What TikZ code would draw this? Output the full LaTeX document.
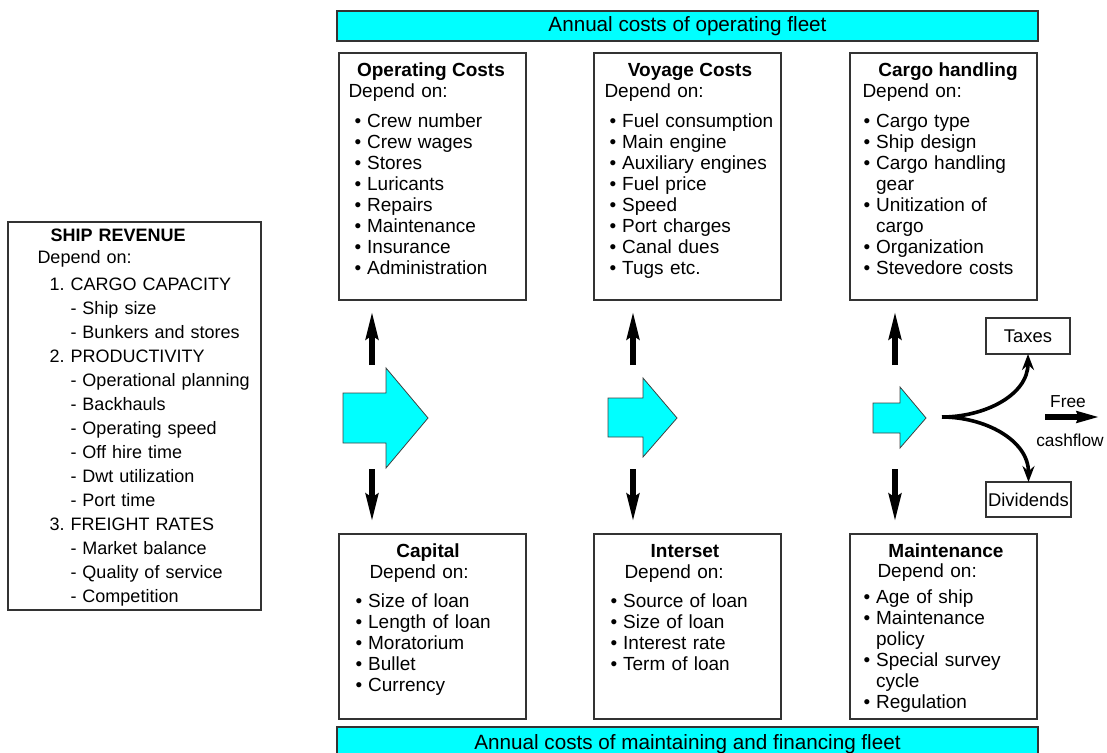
\documentclass[tikz,border=0pt]{standalone}
\usepackage{fontspec}
\setmainfont{Liberation Sans}
\usetikzlibrary{arrows.meta}
\definecolor{fleetcyan}{RGB}{0,255,255}
\tikzset{every picture/.style={line width=0.75pt}}
\tikzset{
  costbox/.style={draw=black!80, line width=0.9pt, inner sep=0pt, outer sep=0pt, anchor=north west, minimum width=140.25pt},
  cyanbar/.style={draw=black!80, fill=fleetcyan, line width=0.9pt, inner sep=0pt, outer sep=0pt, anchor=north west, minimum width=525.75pt, font=\fontsize{15.5}{18}\selectfont},
  boxtitle/.style={anchor=base, inner sep=0pt, font=\fontsize{14.25}{15.8}\selectfont\bfseries},
  boxtext/.style={anchor=base west, inner sep=0pt, align=left, text width=135pt, font=\fontsize{14.25}{15.8}\selectfont},
  revtext/.style={anchor=base west, inner sep=0pt, align=left, text width=180pt, font=\fontsize{13.5}{18}\selectfont},
  smallbox/.style={draw=black!80, line width=0.9pt, inner sep=0pt, outer sep=0pt, anchor=north west, font=\fontsize{13.8}{16}\selectfont},
  flowarrow/.style={draw=black!75, fill=fleetcyan, line width=0.6pt, line join=miter},
  vertarrow/.style={line width=5pt, -{Stealth[length=21pt,width=8.5pt,inset=2pt]}},
  splitarrow/.style={line width=2.7pt, -{Stealth[length=12pt,width=9pt,inset=4pt]}},
}
\newcommand{\itm}{\makebox[9.5pt][l]{\textbullet}}
\newcommand{\cnt}{\hspace*{9.5pt}}
\newcommand{\dsh}{\hspace*{15.75pt}- }
\frenchspacing

\begin{document}
\begin{tikzpicture}[x=0.75pt,y=0.75pt,yscale=-1,xscale=1]
\useasboundingbox (0,0) rectangle (1107,753);

%Shape: Rectangle (cyan bars)
\node[cyanbar, minimum height=22.5pt] (opbar) at (337,11) {Annual costs of operating fleet};
\node[cyanbar, minimum height=25.5pt] (finbar) at (337,727) {Annual costs of maintaining and financing fleet};

%Shape: Rectangle (cost boxes)
\node[costbox, minimum height=185.25pt] (opc) at (339,53) {};
\node[costbox, minimum height=185.25pt] (voy) at (594,53) {};
\node[costbox, minimum height=185.25pt] (cargo) at (850,53) {};
\node[costbox, minimum height=138.75pt] (cap) at (339,534) {};
\node[costbox, minimum height=138.75pt] (intr) at (594,534) {};
\node[costbox, minimum height=138.75pt] (mnt) at (850,534) {};
\node[costbox, minimum width=189.75pt, minimum height=291pt] (rev) at (8,222) {};

% Text Node
\node[revtext, font=\fontsize{13.5}{18}\selectfont\bfseries] (revt) at (50,241) {SHIP REVENUE};
\node[revtext] (revd) at (37,263) {Depend on:};
\node[revtext] (revl) at (49,290) {1. CARGO CAPACITY\\ \dsh Ship size\\ \dsh Bunkers and stores\\ 2. PRODUCTIVITY\\ \dsh Operational planning\\ \dsh Backhauls\\ \dsh Operating speed\\ \dsh Off hire time\\ \dsh Dwt utilization\\ \dsh Port time\\ 3. FREIGHT RATES\\ \dsh Market balance\\ \dsh Quality of service\\ \dsh Competition};

% Text Node
\node[boxtitle] (opct) at (431,76) {Operating Costs};
\node[boxtext] (opcd) at (348,97) {Depend on:};
\node[boxtext] (opcl) at (354,127) {\itm Crew number\\ \itm Crew wages\\ \itm Stores\\ \itm Luricants\\ \itm Repairs\\ \itm Maintenance\\ \itm Insurance\\ \itm Administration};

% Text Node
\node[boxtitle] (voyt) at (690,76) {Voyage Costs};
\node[boxtext] (voyd) at (604,97) {Depend on:};
\node[boxtext] (voyl) at (609,127) {\itm Fuel consumption\\ \itm Main engine\\ \itm Auxiliary engines\\ \itm Fuel price\\ \itm Speed\\ \itm Port charges\\ \itm Canal dues\\ \itm Tugs etc.};

% Text Node
\node[boxtitle] (cargot) at (948,76) {Cargo handling};
\node[boxtext] (cargod) at (862,97) {Depend on:};
\node[boxtext] (cargol) at (863,127) {\itm Cargo type\\ \itm Ship design\\ \itm Cargo handling\\ \cnt gear\\ \itm Unitization of\\ \cnt cargo\\ \itm Organization\\ \itm Stevedore costs};

% Text Node
\node[boxtitle] (capt) at (428,557) {Capital};
\node[boxtext] (capd) at (369,578) {Depend on:};
\node[boxtext] (capl) at (355,607) {\itm Size of loan\\ \itm Length of loan\\ \itm Moratorium\\ \itm Bullet\\ \itm Currency};

% Text Node
\node[boxtitle] (intrt) at (685,557) {Interset};
\node[boxtext] (intrd) at (624,578) {Depend on:};
\node[boxtext] (intrl) at (610,607) {\itm Source of loan\\ \itm Size of loan\\ \itm Interest rate\\ \itm Term of loan};

% Text Node
\node[boxtitle] (mntt) at (946,557) {Maintenance};
\node[boxtext] (mntd) at (877,577) {Depend on:};
\node[boxtext] (mntl) at (863,603) {\itm Age of ship\\ \itm Maintenance\\ \cnt policy\\ \itm Special survey\\ \cnt cycle\\ \itm Regulation};

%Shape: Right Arrow
\draw[flowarrow] (343,393) -- (386,393) -- (386,368) -- (428,418) -- (386,468) -- (386,443) -- (343,443) -- cycle;
\draw[flowarrow] (608,398) -- (643,398) -- (643,378) -- (677,418) -- (643,457) -- (643,437) -- (608,437) -- cycle;
\draw[flowarrow] (873,403) -- (900,403) -- (900,387) -- (926,418) -- (900,448) -- (900,433) -- (873,433) -- cycle;

%Straight Lines (up and down)
\coordinate (u1) at (372,365);
\coordinate (u2) at (633,365);
\coordinate (u3) at (895,365);
\coordinate (d1) at (372,469);
\coordinate (d2) at (633,469);
\coordinate (d3) at (895,469);
\draw[vertarrow, shorten >=7.5pt] (u1) -- (opc.south -| u1);
\draw[vertarrow, shorten >=7.5pt] (u2) -- (voy.south -| u2);
\draw[vertarrow, shorten >=7.5pt] (u3) -- (cargo.south -| u3);
\draw[vertarrow, shorten >=8.25pt] (d1) -- (cap.north -| d1);
\draw[vertarrow, shorten >=8.25pt] (d2) -- (intr.north -| d2);
\draw[vertarrow, shorten >=8.25pt] (d3) -- (mnt.north -| d3);

%Shape: Rectangle (taxes, dividends)
\node[smallbox, minimum width=63pt, minimum height=27pt] (tax) at (986,318) {Taxes};
\node[smallbox, minimum width=63.75pt, minimum height=26.25pt] (divd) at (986,482) {Dividends};

%Curve Lines
\coordinate (split) at (942,417);
\draw[splitarrow] (split) to[out=0,in=90] (tax.south);
\draw[splitarrow] (split) to[out=0,in=-90] (divd.north);

%Straight Lines (free cashflow)
\coordinate (fcs) at (1045,417);
\coordinate (fce) at (1100,417);
\draw[line width=4.5pt, -{Stealth[length=17pt,width=8pt,inset=1pt]}] (fcs) -- (fce);

% Text Node
\node[inner sep=0pt, font=\fontsize{13}{15}\selectfont] (free) at (1068,402) {Free};
\node[inner sep=0pt, font=\fontsize{13}{15}\selectfont] (cash) at (1070,440) {cashflow};

\end{tikzpicture}
\end{document}
